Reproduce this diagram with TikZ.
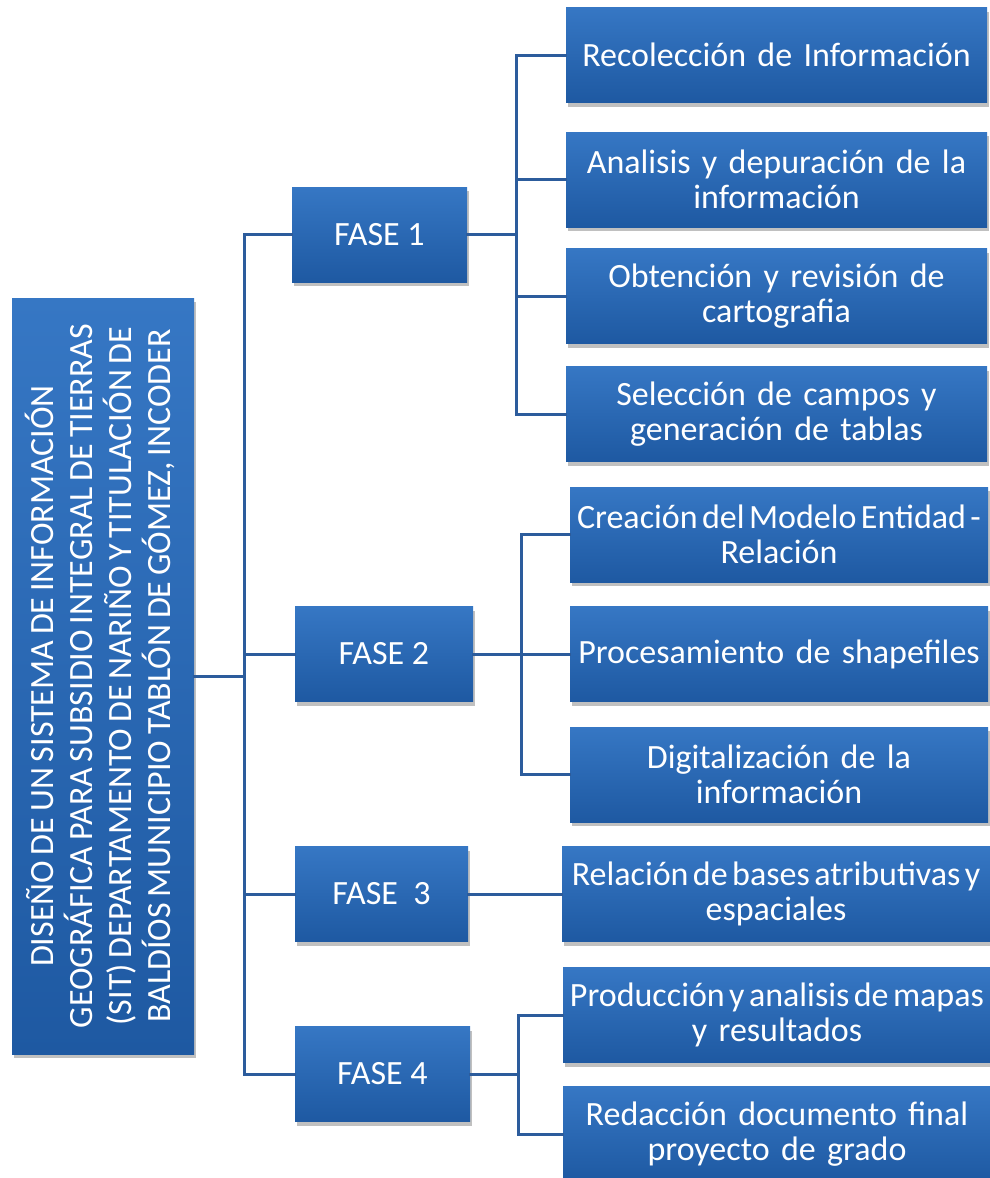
\documentclass[tikz,border=0pt]{standalone}
\usepackage{fontspec}
\setmainfont{Carlito}
\usepackage{graphicx}
\usetikzlibrary{shadows}
\definecolor{bluetop}{HTML}{3677C4}
\definecolor{bluebot}{HTML}{1E59A2}
\definecolor{linec}{HTML}{2C5C9C}
\newcommand\tightln[1]{\mbox{\spaceskip=0.13em\relax #1}}
\begin{document}
\begin{tikzpicture}[x=1pt,y=-1pt,
  box/.style={draw=none, top color=bluetop, bottom color=bluebot,
    drop shadow={shadow xshift=1.5pt, shadow yshift=-4pt, opacity=0.35, fill=black!70},
    inner xsep=4pt, inner ysep=0pt, align=center, text=white,
    font=\fontsize{34}{35}\selectfont},
  fase/.style={box, minimum width=175pt, minimum height=95pt},
  kid/.style={box, minimum height=95pt, text width=#1},
  conn/.style={draw=linec, line width=3pt, line cap=rect}]
\useasboundingbox[fill=white] (0,0) rectangle (990,1178);

% root
\node[box, minimum width=182pt, minimum height=756pt, inner sep=0pt] (L) at (103,676)
  {\rotatebox{90}{\fontsize{34}{35.5}\selectfont\spaceskip=0.17em\relax\begin{tabular}{@{}c@{}}
  DISEÑO DE UN SISTEMA DE INFORMACIÓN\\
  GEOGRÁFICA PARA SUBSIDIO INTEGRAL DE TIERRAS\\
  (SIT) DEPARTAMENTO DE NARIÑO Y TITULACIÓN DE\\
  BALDÍOS MUNICIPIO TABLÓN DE GÓMEZ, INCODER\end{tabular}}};

% phases
\node[fase] (f1) at (379.5,234.5) {FASE 1};
\node[fase, minimum width=178pt] (f2) at (384,654) {FASE 2};
\node[fase, minimum width=173pt] (f3) at (381.5,894) {FASE\ \ 3};
\node[fase] (f4) at (382.5,1074) {FASE 4};

% phase 1 children
\node[kid=413pt] (a1) at (776.5,55) {Recolección de Información};
\node[kid=413pt] (a2) at (776.5,179.5) {Analisis y depuración de la\\información};
\node[kid=413pt] (a3) at (776.5,296) {Obtención y revisión de\\cartografia};
\node[kid=413pt] (a4) at (776.5,414) {Selección de campos y\\generación de tablas};

% phase 2 children
\node[kid=410pt] (b1) at (779,534.5) {\tightln{Creación del Modelo Entidad -}\\Relación};
\node[kid=410pt] (b2) at (779,654) {Procesamiento de shapefiles};
\node[kid=410pt] (b3) at (779,774.5) {Digitalización de la\\información};

% phase 3 child
\node[kid=420pt] (c1) at (776,894) {\tightln{Relación de bases atributivas y}\\espaciales};

% phase 4 children
\node[kid=420pt] (d1) at (777,1015) {\tightln{Producción y analisis de mapas}\\y resultados};
\node[kid=420pt] (d2) at (777,1134) {Redacción documento final\\proyecto de grado};

% trunks
\coordinate (tk) at (244,0);
\coordinate (s1) at (516,0);
\coordinate (s2) at (521,0);
\coordinate (s4) at (518,0);

\draw[conn] (L.east) -- (L.east -| tk);
\draw[conn] (tk |- f1.west) -- (tk |- f4.west);
\foreach \f in {f1,f2,f3,f4} \draw[conn] (tk |- \f.west) -- (\f.west);

\draw[conn] (f1.east) -- (s1 |- f1.east);
\draw[conn] (s1 |- a1.west) -- (s1 |- a4.west);
\foreach \k in {a1,a2,a3,a4} \draw[conn] (s1 |- \k.west) -- (\k.west);

\draw[conn] (f2.east) -- (s2 |- f2.east);
\draw[conn] (s2 |- b1.west) -- (s2 |- b3.west);
\foreach \k in {b1,b2,b3} \draw[conn] (s2 |- \k.west) -- (\k.west);

\draw[conn] (f3.east) -- (c1.west);

\draw[conn] (f4.east) -- (s4 |- f4.east);
\draw[conn] (s4 |- d1.west) -- (s4 |- d2.west);
\foreach \k in {d1,d2} \draw[conn] (s4 |- \k.west) -- (\k.west);
\end{tikzpicture}
\end{document}
